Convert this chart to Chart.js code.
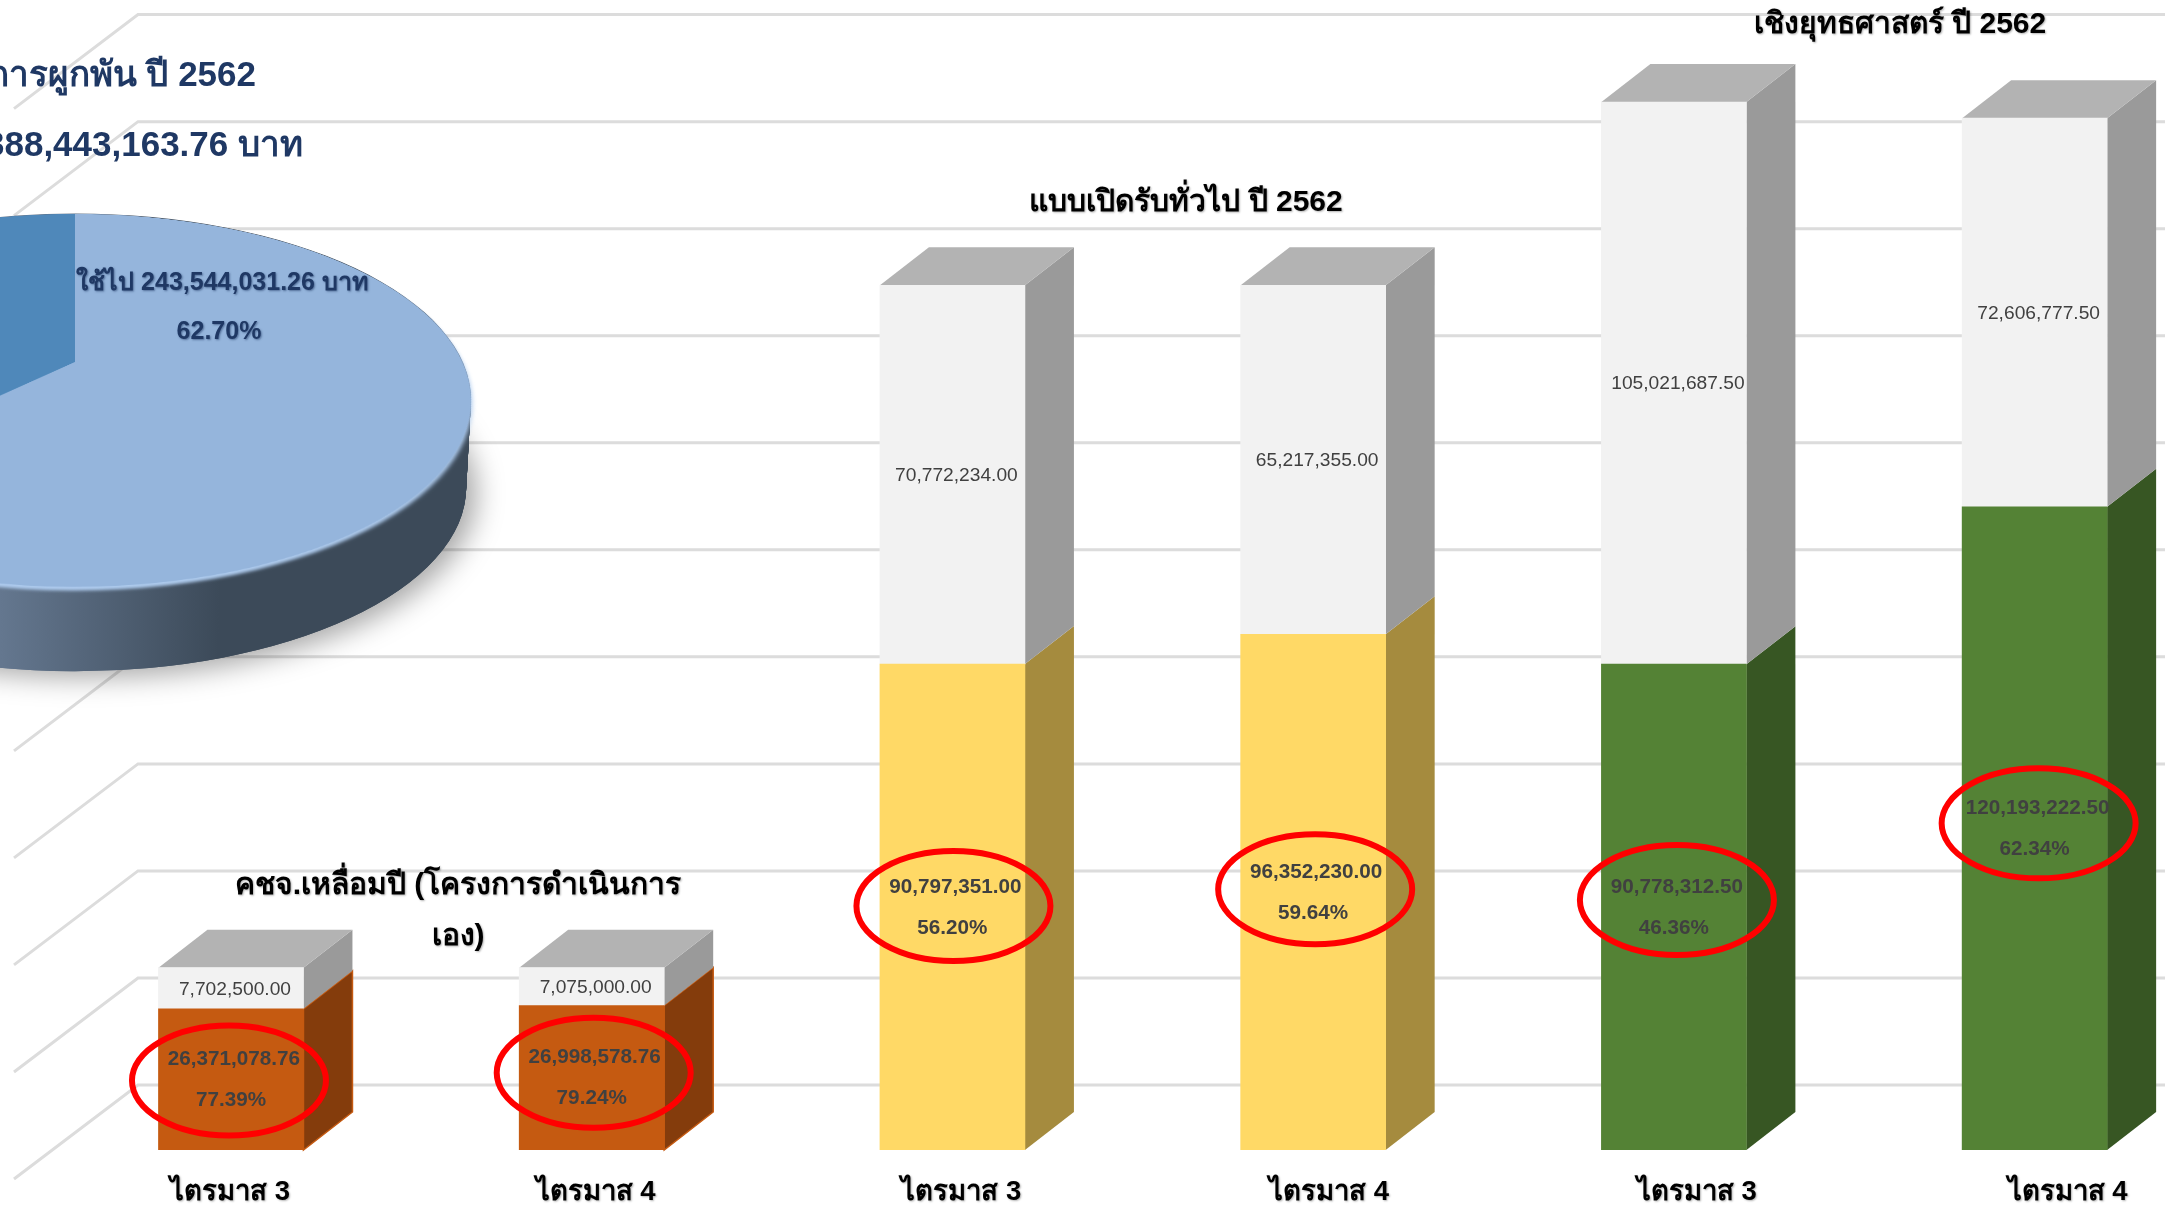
<!DOCTYPE html>
<html lang="th">
<head>
<meta charset="utf-8">
<title>งบประมาณ ปี 2562</title>
<script src="https://cdn.jsdelivr.net/npm/chart.js@4/dist/chart.umd.min.js"></script>
<style>
html, body { margin: 0; padding: 0; background: #fff; width: 2165px; height: 1206px; overflow: hidden; }
canvas { position: absolute; display: block; }
#bars { left: 0; top: 0; }
#pie-wall { left: -425px; top: -100px; }
#pie-top { left: -325px; top: -38px; transform-origin: 400px 400px; transform: perspective(1667px) rotateX(62.57deg); filter: drop-shadow(0 5px 2px #aecbee); }
.t { position: absolute; white-space: nowrap; font-family: "Liberation Sans", "Noto Sans", sans-serif; font-weight: bold; line-height: 1; }
.head { font-size: 30px; color: #000; transform: translate(-50%, -50%); text-shadow: 1px 1px 2px rgba(0,0,0,.3); }
.navy { font-size: 35px; color: #1f3864; }
.pie-label { font-size: 25px; color: #1f3864; text-shadow: 1px 1px 2px rgba(31,56,100,.55); transform: translate(-50%, -50%); }
</style>
</head>
<body>
<canvas id="bars" width="2300" height="1206"></canvas>
<canvas id="pie-wall" width="1000" height="1000"></canvas>
<canvas id="pie-top" width="800" height="800"></canvas>

<div class="t navy" style="right:1909px;top:56px">การผูกพัน ปี 2562</div>
<div class="t navy" style="right:1862px;top:126px">388,443,163.76 บาท</div>
<div class="t pie-label" style="left:222px;top:281px">ใช้ไป 243,544,031.26 บาท</div>
<div class="t pie-label" style="left:219px;top:330px">62.70%</div>
<div class="t head" style="left:458px;top:884px">คชจ.เหลื่อมปี (โครงการดำเนินการ</div>
<div class="t head" style="left:458px;top:935px">เอง)</div>
<div class="t head" style="left:1186px;top:201px">แบบเปิดรับทั่วไป ปี 2562</div>
<div class="t head" style="left:1900px;top:23px">เชิงยุทธศาสตร์ ปี 2562</div>

<script>
// --- Data ---
const quarters = ['ไตรมาส 3', 'ไตรมาส 4', 'ไตรมาส 3', 'ไตรมาส 4', 'ไตรมาส 3', 'ไตรมาส 4'];
const usedValues = [26371078.76, 26998578.76, 90797351.00, 96352230.00, 90778312.50, 120193222.50];
const remainingValues = [7702500.00, 7075000.00, 70772234.00, 65217355.00, 105021687.50, 72606777.50];
const usedPercents = ['77.39%', '79.24%', '56.20%', '59.64%', '46.36%', '62.34%'];
const pieLabels = ['ใช้ไป', 'คงเหลือ'];
const pieValues = [243544031.26, 144899132.50];
// ---------------------------------

const frontColors = ['#c55a11', '#c55a11', '#ffd966', '#ffd966', '#548235', '#548235'];
const sideColors = ['#843c0c', '#843c0c', '#a58b3e', '#a58b3e', '#375623', '#375623'];
const quarterShift = [-1, 4, 9, 16, 23, 33];   // the axis labels drift right of their bars
const ringShiftX = [-2, 2, 1, 2, 3, 4];
const ringShiftY = [1, -5, -1, -3, -7, -5];

const DEPTH_X = 49, DEPTH_Y = 38;              // 3D offset of the bars
const WALL_Y = 65, WALL_X = 124, FLOOR_Y = 94; // back wall against the bar fronts
const fmt = v => v.toLocaleString('en-US', { minimumFractionDigits: 2, maximumFractionDigits: 2 });

const box3d = {
    id: 'box3d',
    beforeDatasetsDraw(chart) {
        const { ctx, scales: { y } } = chart;
        // back wall grid, behind everything
        ctx.save();
        ctx.strokeStyle = '#dcdcdc';
        ctx.lineWidth = 3;
        y.ticks.forEach(t => {
            const py = y.getPixelForValue(t.value) - WALL_Y;
            ctx.beginPath();
            ctx.moveTo(138 - WALL_X, py + FLOOR_Y);
            ctx.lineTo(138, py);
            ctx.lineTo(chart.width, py);
            ctx.stroke();
        });
        // side faces and the lid
        chart.data.datasets.forEach((ds, d) => {
            chart.getDatasetMeta(d).data.forEach((bar, i) => {
                const right = bar.x + bar.width / 2, left = bar.x - bar.width / 2;
                ctx.fillStyle = d === 0 ? sideColors[i] : '#9a9a9a';
                ctx.beginPath();
                ctx.moveTo(right, bar.y);
                ctx.lineTo(right + DEPTH_X, bar.y - DEPTH_Y);
                ctx.lineTo(right + DEPTH_X, bar.base - DEPTH_Y);
                ctx.lineTo(right, bar.base);
                ctx.closePath();
                ctx.fill();
                if (d === 0 && i < 2) {
                    // the orange boxes keep a thin bright edge
                    ctx.strokeStyle = '#c55a11';
                    ctx.lineWidth = 1.5;
                    ctx.stroke();
                }
                if (d === 1) {
                    ctx.fillStyle = '#b3b3b3';
                    ctx.beginPath();
                    ctx.moveTo(left, bar.y);
                    ctx.lineTo(left + DEPTH_X, bar.y - DEPTH_Y);
                    ctx.lineTo(right + DEPTH_X, bar.y - DEPTH_Y);
                    ctx.lineTo(right, bar.y);
                    ctx.closePath();
                    ctx.fill();
                }
            });
        });
        ctx.restore();
    },
    afterDatasetsDraw(chart) {
        const { ctx } = chart;
        const used = chart.getDatasetMeta(0).data;
        const rest = chart.getDatasetMeta(1).data;
        ctx.save();
        ctx.textAlign = 'center';
        ctx.textBaseline = 'middle';

        used.forEach((bar, i) => {
            const mid = (bar.y + bar.base) / 2;
            ctx.strokeStyle = '#ff0000';
            ctx.lineWidth = 6;
            ctx.beginPath();
            ctx.ellipse(bar.x + ringShiftX[i], mid + ringShiftY[i], 97, 55, 0, 0, Math.PI * 2);
            ctx.stroke();

            ctx.fillStyle = '#404040';
            ctx.font = 'bold 20.7px "Liberation Sans"';
            ctx.fillText(fmt(usedValues[i]), bar.x + 3, mid - 20);
            ctx.fillText(usedPercents[i], bar.x, mid + 21);
        });

        rest.forEach((bar, i) => {
            ctx.fillStyle = '#404040';
            ctx.font = '19.2px "Liberation Sans"';
            ctx.fillText(fmt(remainingValues[i]), bar.x + 4, (bar.y + bar.base) / 2 + 1);
        });

        ctx.fillStyle = '#000';
        ctx.font = 'bold 27.5px "Liberation Sans", "Noto Sans", sans-serif';
        ctx.shadowColor = 'rgba(0,0,0,.3)';
        ctx.shadowBlur = 2;
        ctx.shadowOffsetX = 1;
        ctx.shadowOffsetY = 1;
        used.forEach((bar, i) => ctx.fillText(quarters[i], bar.x + quarterShift[i], 1192));
        ctx.restore();
    }
};

new Chart(document.getElementById('bars'), {
    type: 'bar',
    data: {
        labels: quarters,
        datasets: [
            { label: 'ใช้ไป', data: usedValues, backgroundColor: frontColors, borderWidth: 0 },
            { label: 'คงเหลือ', data: remainingValues, backgroundColor: '#f2f2f2', borderWidth: 0 }
        ]
    },
    options: {
        responsive: false,
        animation: false,
        devicePixelRatio: 1,
        layout: { padding: { left: 50.6, right: 85, top: 79.6, bottom: 56 } },
        barThickness: 145,
        plugins: { legend: { display: false }, tooltip: { enabled: false } },
        scales: {
            x: { stacked: true, display: false },
            y: {
                stacked: true,
                display: false,
                min: 0,
                max: 200000000,
                ticks: { stepSize: 20000000 }
            }
        }
    },
    plugins: [box3d]
});

// the pie's rim: the same slices, squashed and repeated straight down
const RIM = 87, SQUASH = 186.5 / 396, RIM_NARROW = 0.012;
const wallCanvas = document.getElementById('pie-wall');
const wallGradient = wallCanvas.getContext('2d').createLinearGradient(425, 0, 645, 0);
wallGradient.addColorStop(0, '#64778f');
wallGradient.addColorStop(1, '#3c4a59');

const pieWall = {
    id: 'pieWall',
    beforeDatasetsDraw(chart) {
        const { ctx } = chart;
        const arcs = chart.getDatasetMeta(0).data;
        const drawAt = dy => {
            const { x, y } = arcs[0];
            const narrow = 1 - RIM_NARROW * dy / RIM;
            ctx.save();
            ctx.translate(x, y + dy);
            ctx.scale(narrow, SQUASH * narrow);
            ctx.translate(-x, -y);
            arcs.forEach(a => a.draw(ctx));
            ctx.restore();
        };
        ctx.save();
        ctx.shadowColor = 'rgba(0,0,0,.35)';
        ctx.shadowBlur = 28;
        ctx.shadowOffsetX = 10;
        ctx.shadowOffsetY = 6;
        drawAt(RIM);
        ctx.restore();
        for (let dy = RIM; dy >= 0; dy--) drawAt(dy);
        return false;
    }
};

new Chart(wallCanvas, {
    type: 'pie',
    data: {
        labels: pieLabels,
        datasets: [{ data: pieValues, backgroundColor: wallGradient, borderWidth: 0, radius: 396 }]
    },
    options: {
        responsive: false,
        animation: false,
        devicePixelRatio: 1,
        plugins: { legend: { display: false }, tooltip: { enabled: false } }
    },
    plugins: [pieWall]
});

new Chart(document.getElementById('pie-top'), {
    type: 'pie',
    data: {
        labels: pieLabels,
        datasets: [{ data: pieValues, backgroundColor: ['#95b5dc', '#4f88ba'], borderWidth: 0, radius: 387.5 }]
    },
    options: {
        responsive: false,
        animation: false,
        devicePixelRatio: 1,
        plugins: { legend: { display: false }, tooltip: { enabled: false } }
    }
});
</script>
</body>
</html>
